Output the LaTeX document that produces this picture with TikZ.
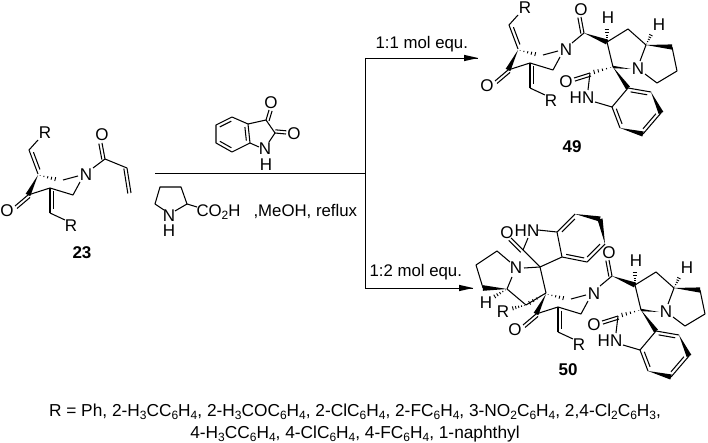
\documentclass[tikz,border=0pt]{standalone}
\usepackage{fontspec}
\setmainfont{Liberation Sans}
\usetikzlibrary{calc}
\newcommand{\sbs}[1]{\raisebox{-.22em}{\fontsize{12}{12}\selectfont #1}}
\newcommand{\wdg}[3][2.6pt]{\fill (#2) -- ($(#3)!#1!90:(#2)$) -- ($(#3)!#1!-90:(#2)$) -- cycle;}
\newcommand{\hsh}[3][2.6pt]{\foreach \t in {.1,.28,.46,.64,.82,1}{\path ($(#2)!\t!(#3)$) coordinate (hp);
  \draw[line width=.9pt] ($(hp)!{\t*#1}!90:(#3)$) -- ($(hp)!{\t*#1}!-90:(#3)$);}}
\newcommand{\dbl}[3][1]{\draw (#2) -- (#3);
  \draw ($(#2)!{#1*3.2pt}!90:(#3)$) -- ($(#3)!{#1*3.2pt}!-90:(#2)$);}
\newcommand{\inr}[3][1]{\draw ($($(#2)!.14!(#3)$)!{#1*3.4pt}!90:(#3)$) -- ($($(#3)!.14!(#2)$)!{#1*3.4pt}!-90:(#2)$);}
\tikzset{
  atom/.style={inner sep=0pt,font=\fontsize{17}{17}\selectfont},
  lbl/.style={inner sep=0pt,font=\fontsize{17}{17}\selectfont\bfseries},
  txt/.style={inner sep=0pt,font=\fontsize{16.8}{17}\selectfont},
  foot/.style={inner sep=0pt,font=\fontsize{17.3}{18}\selectfont},
  rxn/.style={line width=.8pt}
}
% dione ring: C2 at (38,174)
\newcommand{\ringcore}{%
  \hsh[2.4pt]{38,175}{59,180}
  \draw (63,180) -- (78,176);
  \draw (80,182) -- (73,195) -- (50,188) -- (28,195);
  \wdg[2.6pt]{38,175}{28,195}
  \dbl{28,195}{15,206}
  \node[atom] (ringO) at (7,211) {O};
  \draw (50,188) -- (50,213);
  \inr[1]{50,188}{50,213}
  \draw (50,213) -- (65,220);
  \node[atom] (ringR) at (71,226) {R};
  \node[atom] (ringN) at (86,175) {N};
}
\newcommand{\ringtop}{%
  \draw (38,174) -- (29,150);
  \inr[-1]{38,174}{29,150}
  \draw (29,150) -- (38,140);
  \node[atom] (ringRt) at (45,133) {R};
}
% carbonyl-pyrrolizidine-oxindole: N of ring at (565,50)
\newcommand{\rightpart}{%
  \draw (572,43) -- (584,33);
  \dbl[1]{584,33}{581,17}
  \node[atom] (rO) at (581,10) {O};
  \wdg[2.6pt]{584,33}{607,42}
  \hsh[3pt]{607,42}{607,27}
  \node[atom] (rH) at (608,18) {H};
  \draw (607,42) -- (628,29) -- (646,45) -- (640,61);
  \wdg[2.6pt]{646,45}{672,47}
  \draw (672,47) -- (677,71) -- (657,83) -- (645,74);
  \node[atom] (rNN) at (638,69) {N};
  \hsh[2.2pt]{646,45}{652,33}
  \node[atom] (rH2) at (659,25) {H};
  \draw (607,42) -- (613,67);
  \wdg[1.2pt]{631,69}{613,67}
  \wdg[2.4pt]{613,67}{628,88}
  \hsh[2.6pt]{613,67}{590,73}
  \dbl[1]{590,73}{574,78}
  \node[atom] (rO2) at (566,82) {O};
  \draw (590,73) -- (588,90);
  \node[atom] (rHN) at (582,98) {HN};
  \draw (595,102) -- (612,107) -- (628,88) -- (651,92);
  \draw (612,107) -- (620,128);
  \wdg[2.6pt]{620,128}{643,134}
  \draw (643,134) -- (661,113);
  \wdg[2.6pt]{651,92}{661,113}
  \inr[-1]{628,88}{651,92}
  \inr[1]{612,107}{620,128}
  \inr[1]{643,134}{661,113}
}
\begin{document}
\begin{tikzpicture}[x=1pt,y=-1pt,line width=1.05pt,line join=round]
\useasboundingbox (0,0) rectangle (708,443);
% reaction lines
\coordinate (mainL) at (155,173);
\coordinate (mainR) at (365,173);
\coordinate (topC) at (365,58);
\coordinate (botC) at (365,288);
\coordinate (topE) at (478,58);
\coordinate (botE) at (473,288);
\draw[rxn] (mainL) -- (mainR);
\draw[rxn] (topC) -- (botC);
\draw[rxn] (topC) -- (topE);
\draw[rxn] (botC) -- (botE);
\fill (topE) -- ++(-14,-3.2) -- ++(0,6.4) -- cycle;
\fill (botE) -- ++(-14,-3.2) -- ++(0,6.4) -- cycle;
\node[txt,anchor=west] (t11) at (375,44) {1:1 mol equ.};
\node[txt,anchor=west] (t12) at (369,272) {1:2 mol equ.};

% 23
\ringcore \ringtop
\draw (93,168) -- (105,159);
\dbl[1]{105,159}{102,143}
\node[atom] (o23) at (102,135) {O};
\draw (105,159) -- (127,168);
\dbl[-1]{127,168}{131,193};
\node[lbl] (l23) at (82,253) {23};

% isatin
\draw (216,125) -- (232,117) -- (248,124) -- (250,143) -- (232,152) -- (216,143) -- cycle;
\inr[-1]{216,125}{232,117}
\inr[-1]{248,124}{250,143}
\inr[-1]{232,152}{216,143}
\draw (248,124) -- (266,120) -- (275,133);
\draw (275,133) -- (269,142);
\draw (250,143) -- (259,147);
\dbl[-1]{266,120}{269,110}
\dbl[1]{275,133}{286,134}
\node[atom] (iO1) at (271,103) {O};
\node[atom] (iO2) at (294,134) {O};
\node[atom] (iN) at (265,149) {N};
\node[atom] (iH) at (266,165) {H};

% proline
\draw (164,210) -- (155,204) -- (160,187) -- (181,187) -- (187,204) -- (175,211);
\draw (187,204) -- (197,207);
\node[atom] (pN) at (169,216) {N};
\node[atom] (pH) at (169,231) {H};
\node[txt,anchor=west] (pC) at (196,212) {CO\sbs{2}H};
\node[txt,anchor=west] (pM) at (253,211) {,MeOH, reflux};

% 49
\begin{scope}[shift={(480,-125)}]
\ringcore \ringtop
\end{scope}
\rightpart
\node[lbl] (l49) at (572,147) {49};

% 50
\begin{scope}[shift={(508,119)}]
\ringcore
\end{scope}
\begin{scope}[shift={(28,243)}]
\rightpart
\end{scope}
\node[lbl] (l50) at (568,370) {50};
\draw (546,293) -- (540,267);
\hsh[2.4pt]{546,293}{526,305}
\draw (540,267) -- (523,250);
\draw (523,250) -- (528,238);
\dbl[1]{523,250}{511,238}
\node[atom] (aO) at (507,233) {O};
\node[atom] (aHN) at (527,231) {HN};
\draw (538,230) -- (557,232) -- (562,257) -- (540,267);
\draw (524,268) -- (540,267);
\node[atom] (aN) at (516,268) {N};
\draw (512,277) -- (507,289);
\wdg[2.8pt]{507,289}{483,288}
\draw (483,288) -- (476,265) -- (497,251) -- (510,262);
\hsh[2.4pt]{507,289}{492,298}
\node[atom] (aH) at (486,303) {H};
\draw (507,289) -- (526,305);
\draw (526,305) -- (546,293);
\hsh[2.4pt]{526,305}{510,309}
\node[atom] (aR) at (503,312) {R};
\draw (557,232) -- (575,214);
\wdg[2.6pt]{575,214}{600,219}
\wdg[2.6pt]{605,244}{600,219}
\draw (605,244) -- (587,262) -- (562,257);
\inr[-1]{557,232}{575,214}
\inr[-1]{605,244}{587,262}
\inr[1]{562,257}{587,262}

% footer
\node[foot,anchor=base] (f1) at (355,416) {R = Ph, 2-H\sbs{3}CC\sbs{6}H\sbs{4}, 2-H\sbs{3}COC\sbs{6}H\sbs{4}, 2-ClC\sbs{6}H\sbs{4}, 2-FC\sbs{6}H\sbs{4}, 3-NO\sbs{2}C\sbs{6}H\sbs{4}, 2,4-Cl\sbs{2}C\sbs{6}H\sbs{3},};
\node[foot,anchor=base] (f2) at (355,438) {4-H\sbs{3}CC\sbs{6}H\sbs{4}, 4-ClC\sbs{6}H\sbs{4}, 4-FC\sbs{6}H\sbs{4}, 1-naphthyl};
\end{tikzpicture}
\end{document}
